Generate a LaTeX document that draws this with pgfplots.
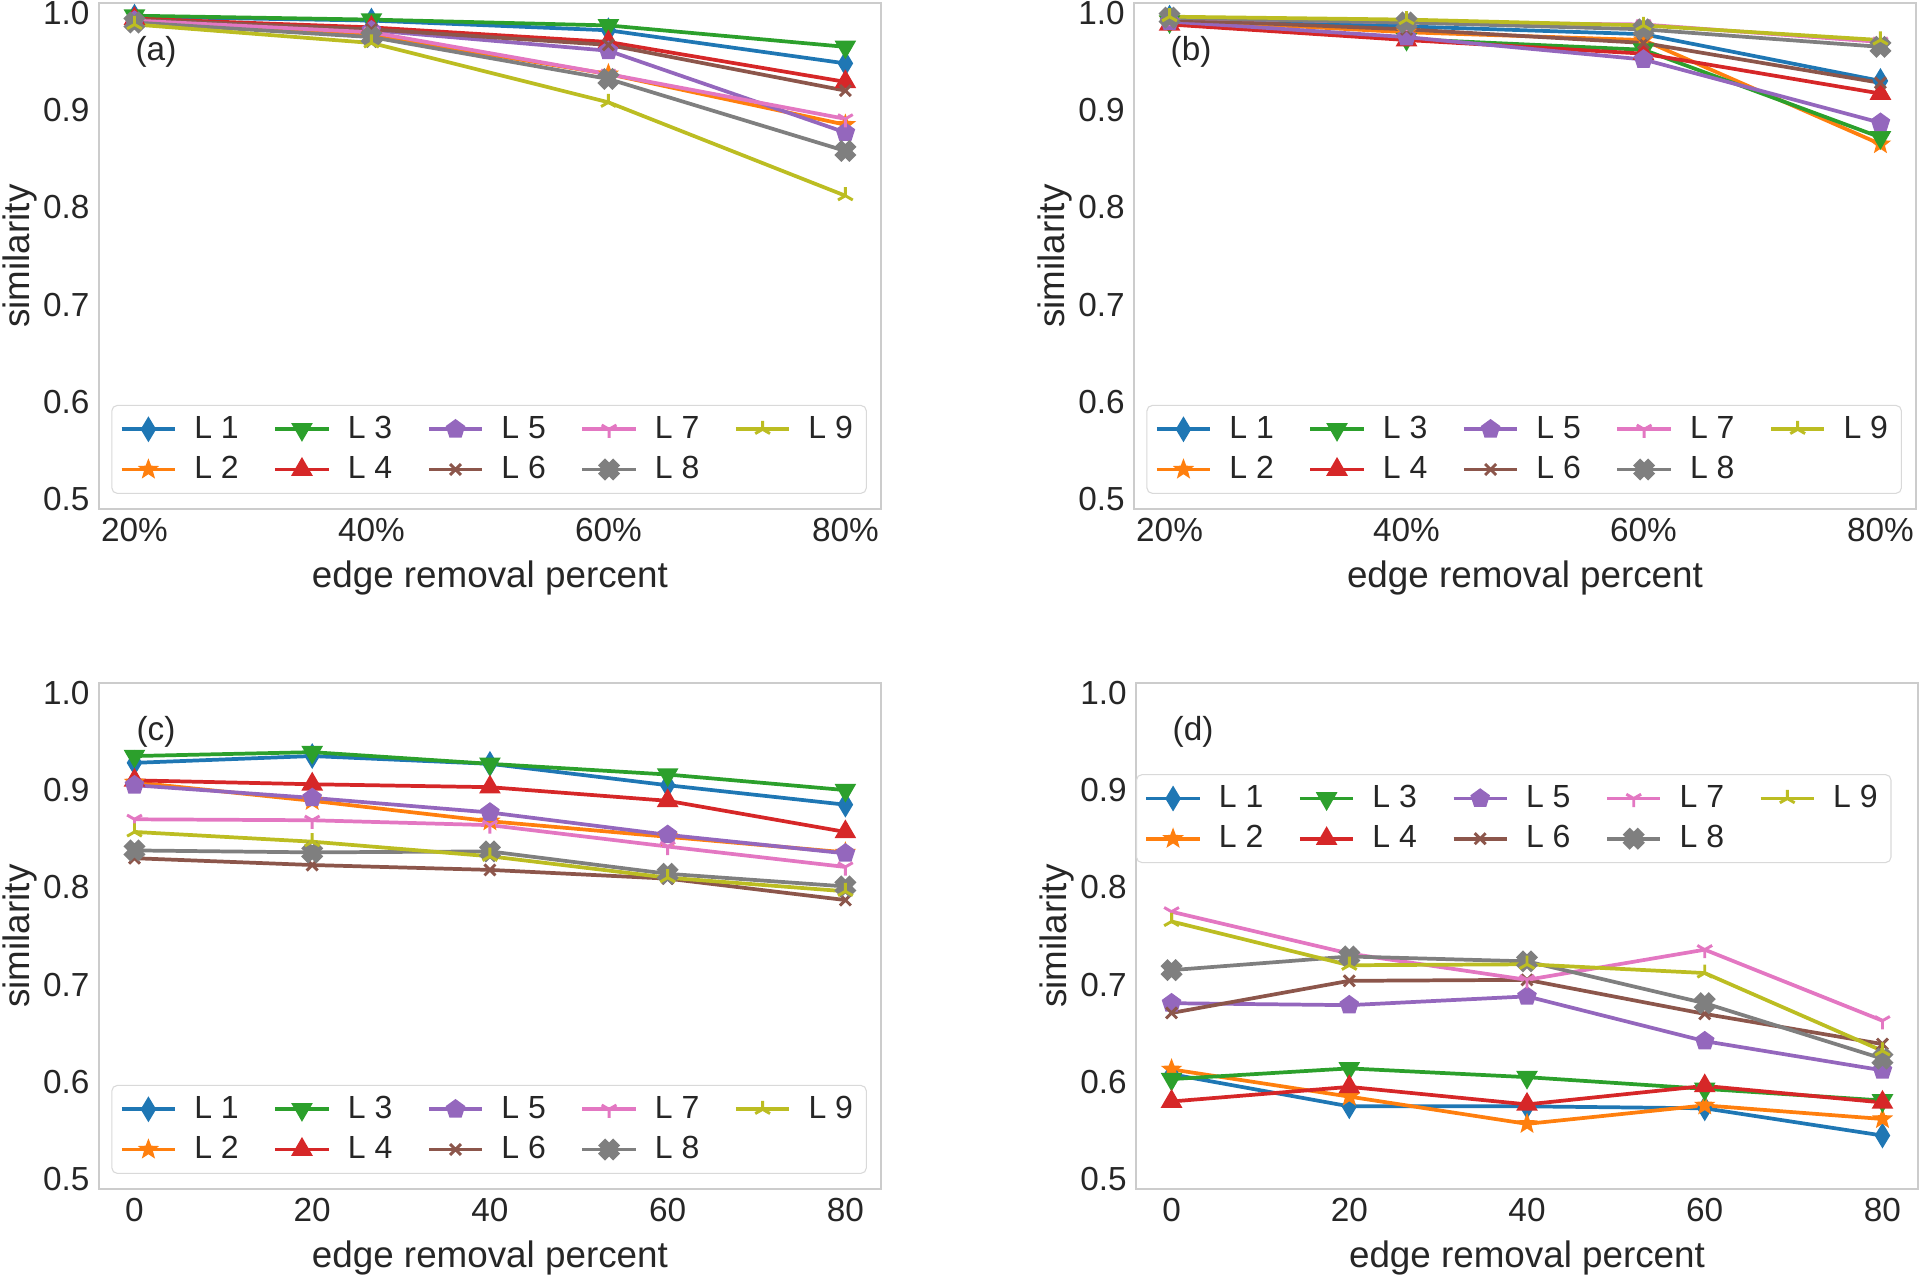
\documentclass[border=0pt]{standalone}
\usepackage{fontspec}
\setmainfont{Liberation Sans}
\usepackage{pgfplots}
\pgfplotsset{compat=1.18}
\definecolor{c1}{HTML}{1F77B4}
\definecolor{c2}{HTML}{FF7F0E}
\definecolor{c3}{HTML}{2CA02C}
\definecolor{c4}{HTML}{D62728}
\definecolor{c5}{HTML}{9467BD}
\definecolor{c6}{HTML}{8C564B}
\definecolor{c7}{HTML}{E377C2}
\definecolor{c8}{HTML}{7F7F7F}
\definecolor{c9}{HTML}{BCBD22}
\definecolor{txt}{HTML}{262626}

% filled five-point star
\pgfdeclareplotmark{fstar}{%
  \pgfpathmoveto{\pgfpointpolar{90}{\pgfplotmarksize}}%
  \pgfpathlineto{\pgfpointpolar{126}{0.42\pgfplotmarksize}}%
  \pgfpathlineto{\pgfpointpolar{162}{\pgfplotmarksize}}%
  \pgfpathlineto{\pgfpointpolar{198}{0.42\pgfplotmarksize}}%
  \pgfpathlineto{\pgfpointpolar{234}{\pgfplotmarksize}}%
  \pgfpathlineto{\pgfpointpolar{270}{0.42\pgfplotmarksize}}%
  \pgfpathlineto{\pgfpointpolar{306}{\pgfplotmarksize}}%
  \pgfpathlineto{\pgfpointpolar{342}{0.42\pgfplotmarksize}}%
  \pgfpathlineto{\pgfpointpolar{18}{\pgfplotmarksize}}%
  \pgfpathlineto{\pgfpointpolar{54}{0.42\pgfplotmarksize}}%
  \pgfpathclose\pgfusepathqfillstroke}
% filled plus (rotated 45 for the X marker)
\pgfdeclareplotmark{fplus}{%
  \pgfpathmoveto{\pgfpoint{0.35\pgfplotmarksize}{\pgfplotmarksize}}%
  \pgfpathlineto{\pgfpoint{-0.35\pgfplotmarksize}{\pgfplotmarksize}}%
  \pgfpathlineto{\pgfpoint{-0.35\pgfplotmarksize}{0.35\pgfplotmarksize}}%
  \pgfpathlineto{\pgfpoint{-\pgfplotmarksize}{0.35\pgfplotmarksize}}%
  \pgfpathlineto{\pgfpoint{-\pgfplotmarksize}{-0.35\pgfplotmarksize}}%
  \pgfpathlineto{\pgfpoint{-0.35\pgfplotmarksize}{-0.35\pgfplotmarksize}}%
  \pgfpathlineto{\pgfpoint{-0.35\pgfplotmarksize}{-\pgfplotmarksize}}%
  \pgfpathlineto{\pgfpoint{0.35\pgfplotmarksize}{-\pgfplotmarksize}}%
  \pgfpathlineto{\pgfpoint{0.35\pgfplotmarksize}{-0.35\pgfplotmarksize}}%
  \pgfpathlineto{\pgfpoint{\pgfplotmarksize}{-0.35\pgfplotmarksize}}%
  \pgfpathlineto{\pgfpoint{\pgfplotmarksize}{0.35\pgfplotmarksize}}%
  \pgfpathlineto{\pgfpoint{0.35\pgfplotmarksize}{0.35\pgfplotmarksize}}%
  \pgfpathclose\pgfusepathqfillstroke}
% matplotlib tri_down ('1') and tri_up ('2')
\pgfdeclareplotmark{tridown}{%
  \pgfpathmoveto{\pgfpointorigin}\pgfpathlineto{\pgfpointpolar{270}{\pgfplotmarksize}}%
  \pgfpathmoveto{\pgfpointorigin}\pgfpathlineto{\pgfpointpolar{30}{\pgfplotmarksize}}%
  \pgfpathmoveto{\pgfpointorigin}\pgfpathlineto{\pgfpointpolar{150}{\pgfplotmarksize}}%
  \pgfusepathqstroke}
\pgfdeclareplotmark{triup}{%
  \pgfpathmoveto{\pgfpointorigin}\pgfpathlineto{\pgfpointpolar{90}{\pgfplotmarksize}}%
  \pgfpathmoveto{\pgfpointorigin}\pgfpathlineto{\pgfpointpolar{210}{\pgfplotmarksize}}%
  \pgfpathmoveto{\pgfpointorigin}\pgfpathlineto{\pgfpointpolar{330}{\pgfplotmarksize}}%
  \pgfusepathqstroke}

\pgfplotsset{
  s1/.style={c1, line width=1.4pt, mark=diamond*, mark size=3.5pt, mark options={solid, xscale=0.8, fill=c1}},
  s2/.style={c2, line width=1.4pt, mark=fstar, mark size=3.5pt, mark options={solid, fill=c2, line width=0.5pt}},
  s3/.style={c3, line width=1.4pt, mark=triangle*, mark size=3.3pt, mark options={solid, rotate=180, fill=c3}},
  s4/.style={c4, line width=1.4pt, mark=triangle*, mark size=3.3pt, mark options={solid, fill=c4}},
  s5/.style={c5, line width=1.4pt, mark=pentagon*, mark size=3pt, mark options={solid, fill=c5}},
  s6/.style={c6, line width=1.4pt, mark=x, mark size=2.9pt, mark options={solid, line width=1.1pt}},
  s7/.style={c7, line width=1.4pt, mark=tridown, mark size=3.2pt, mark options={solid, line width=1.1pt}},
  s8/.style={c8, line width=1.4pt, mark=fplus, mark size=3.3pt, mark options={solid, rotate=45, fill=c8}},
  s9/.style={c9, line width=1.4pt, mark=triup, mark size=3.2pt, mark options={solid, line width=1.1pt}},
  panel/.style={
    scale only axis, width=293.25pt, height=189.75pt,
    ymin=0.49, ymax=1.01, ytick={0.5,0.6,0.7,0.8,0.9,1.0},
    axis line style={black!20, line width=0.8pt},
    major tick length=0pt,
    tick label style={font=\fontsize{12.5}{15}\selectfont, text=txt},
    label style={font=\fontsize{13.8}{16}\selectfont, text=txt},
    yticklabel style={/pgf/number format/.cd, fixed, fixed zerofill, precision=1, assume math mode=true},
    xticklabel style={/pgf/number format/assume math mode=true},
    xlabel={edge removal percent}, ylabel={similarity},
    ylabel shift=-4.5pt,
    clip=false,
    legend columns=2, transpose legend,
    legend cell align=left,
    legend style={font=\fontsize{12}{14.5}\selectfont, text=txt, draw=black!15, rounded corners=2pt,
      fill=white, inner xsep=3pt, inner ysep=2pt, row sep=1.2pt,
      /tikz/every even column/.append style={column sep=11pt},
      /tikz/every odd column/.append style={column sep=4.5pt}},
    legend image code/.code={\draw[##1, mark repeat=2, mark phase=2] plot coordinates {(0pt,0pt) (10pt,0pt) (20pt,0pt)};},
  },
  pctx/.style={xmin=17, xmax=83, xtick={20,40,60,80}, xticklabels={20\%,40\%,60\%,80\%}},
  numx/.style={xmin=-4, xmax=84, xtick={0,20,40,60,80}},
}

\begin{document}
\begin{tikzpicture}
% (a)
\begin{axis}[panel, pctx, at={(37.1pt,287.6pt)}, anchor=south west,
  legend style={at={(0.982,0.03)}, anchor=south east}]
\addplot[s1] coordinates {(20,0.996) (40,0.992) (60,0.982) (80,0.948)};
\addplot[s2] coordinates {(20,0.991) (40,0.977) (60,0.937) (80,0.885)};
\addplot[s3] coordinates {(20,0.997) (40,0.993) (60,0.987) (80,0.965)};
\addplot[s4] coordinates {(20,0.994) (40,0.985) (60,0.970) (80,0.929)};
\addplot[s5] coordinates {(20,0.992) (40,0.982) (60,0.961) (80,0.877)};
\addplot[s6] coordinates {(20,0.993) (40,0.983) (60,0.967) (80,0.920)};
\addplot[s7] coordinates {(20,0.992) (40,0.980) (60,0.937) (80,0.891)};
\addplot[s8] coordinates {(20,0.990) (40,0.975) (60,0.932) (80,0.858)};
\addplot[s9] coordinates {(20,0.988) (40,0.969) (60,0.908) (80,0.812)};
\legend{L 1,L 2,L 3,L 4,L 5,L 6,L 7,L 8,L 9}
\node[font=\fontsize{12.5}{15}\selectfont, text=txt] at (rel axis cs:0.073,0.903) {(a)};
\end{axis}

% (b)
\begin{axis}[panel, pctx, at={(425.25pt,287.6pt)}, anchor=south west,
  legend style={at={(0.982,0.03)}, anchor=south east}]
\addplot[s1] coordinates {(20,0.995) (40,0.986) (60,0.978) (80,0.930)};
\addplot[s2] coordinates {(20,0.993) (40,0.980) (60,0.972) (80,0.865)};
\addplot[s3] coordinates {(20,0.991) (40,0.973) (60,0.962) (80,0.872)};
\addplot[s4] coordinates {(20,0.988) (40,0.972) (60,0.958) (80,0.917)};
\addplot[s5] coordinates {(20,0.991) (40,0.975) (60,0.952) (80,0.887)};
\addplot[s6] coordinates {(20,0.993) (40,0.983) (60,0.969) (80,0.928)};
\addplot[s7] coordinates {(20,0.995) (40,0.990) (60,0.988) (80,0.970)};
\addplot[s8] coordinates {(20,0.995) (40,0.990) (60,0.983) (80,0.965)};
\addplot[s9] coordinates {(20,0.996) (40,0.993) (60,0.987) (80,0.972)};
\legend{L 1,L 2,L 3,L 4,L 5,L 6,L 7,L 8,L 9}
\node[font=\fontsize{12.5}{15}\selectfont, text=txt] at (rel axis cs:0.073,0.903) {(b)};
\end{axis}

% (c)
\begin{axis}[panel, numx, at={(37.1pt,32.6pt)}, anchor=south west,
  legend style={at={(0.982,0.03)}, anchor=south east}]
\addplot[s1] coordinates {(0,0.928) (20,0.935) (40,0.927) (60,0.905) (80,0.885)};
\addplot[s2] coordinates {(0,0.908) (20,0.889) (40,0.868) (60,0.852) (80,0.836)};
\addplot[s3] coordinates {(0,0.935) (20,0.939) (40,0.927) (60,0.916) (80,0.900)};
\addplot[s4] coordinates {(0,0.910) (20,0.906) (40,0.903) (60,0.889) (80,0.857)};
\addplot[s5] coordinates {(0,0.905) (20,0.892) (40,0.877) (60,0.854) (80,0.835)};
\addplot[s6] coordinates {(0,0.830) (20,0.823) (40,0.818) (60,0.809) (80,0.787)};
\addplot[s7] coordinates {(0,0.870) (20,0.869) (40,0.864) (60,0.842) (80,0.821)};
\addplot[s8] coordinates {(0,0.838) (20,0.836) (40,0.837) (60,0.814) (80,0.801)};
\addplot[s9] coordinates {(0,0.857) (20,0.847) (40,0.832) (60,0.810) (80,0.796)};
\legend{L 1,L 2,L 3,L 4,L 5,L 6,L 7,L 8,L 9}
\node[font=\fontsize{12.5}{15}\selectfont, text=txt] at (rel axis cs:0.073,0.903) {(c)};
\end{axis}

% (d)
\begin{axis}[panel, numx, at={(426pt,32.6pt)}, anchor=south west,
  legend style={at={(0,0.82)}, anchor=north west}]
\addplot[s1] coordinates {(0,0.608) (20,0.575) (40,0.575) (60,0.573) (80,0.545)};
\addplot[s2] coordinates {(0,0.613) (20,0.585) (40,0.557) (60,0.576) (80,0.562)};
\addplot[s3] coordinates {(0,0.603) (20,0.614) (40,0.605) (60,0.593) (80,0.581)};
\addplot[s4] coordinates {(0,0.580) (20,0.595) (40,0.577) (60,0.596) (80,0.579)};
\addplot[s5] coordinates {(0,0.681) (20,0.679) (40,0.688) (60,0.642) (80,0.612)};
\addplot[s6] coordinates {(0,0.671) (20,0.704) (40,0.705) (60,0.670) (80,0.639)};
\addplot[s7] coordinates {(0,0.775) (20,0.732) (40,0.705) (60,0.736) (80,0.663)};
\addplot[s8] coordinates {(0,0.715) (20,0.729) (40,0.724) (60,0.681) (80,0.624)};
\addplot[s9] coordinates {(0,0.765) (20,0.720) (40,0.721) (60,0.712) (80,0.632)};
\legend{L 1,L 2,L 3,L 4,L 5,L 6,L 7,L 8,L 9}
\node[font=\fontsize{12.5}{15}\selectfont, text=txt] at (rel axis cs:0.073,0.903) {(d)};
\end{axis}
\pgfresetboundingbox
\useasboundingbox (0,0) rectangle (720pt,478.5pt);
\end{tikzpicture}
\end{document}
